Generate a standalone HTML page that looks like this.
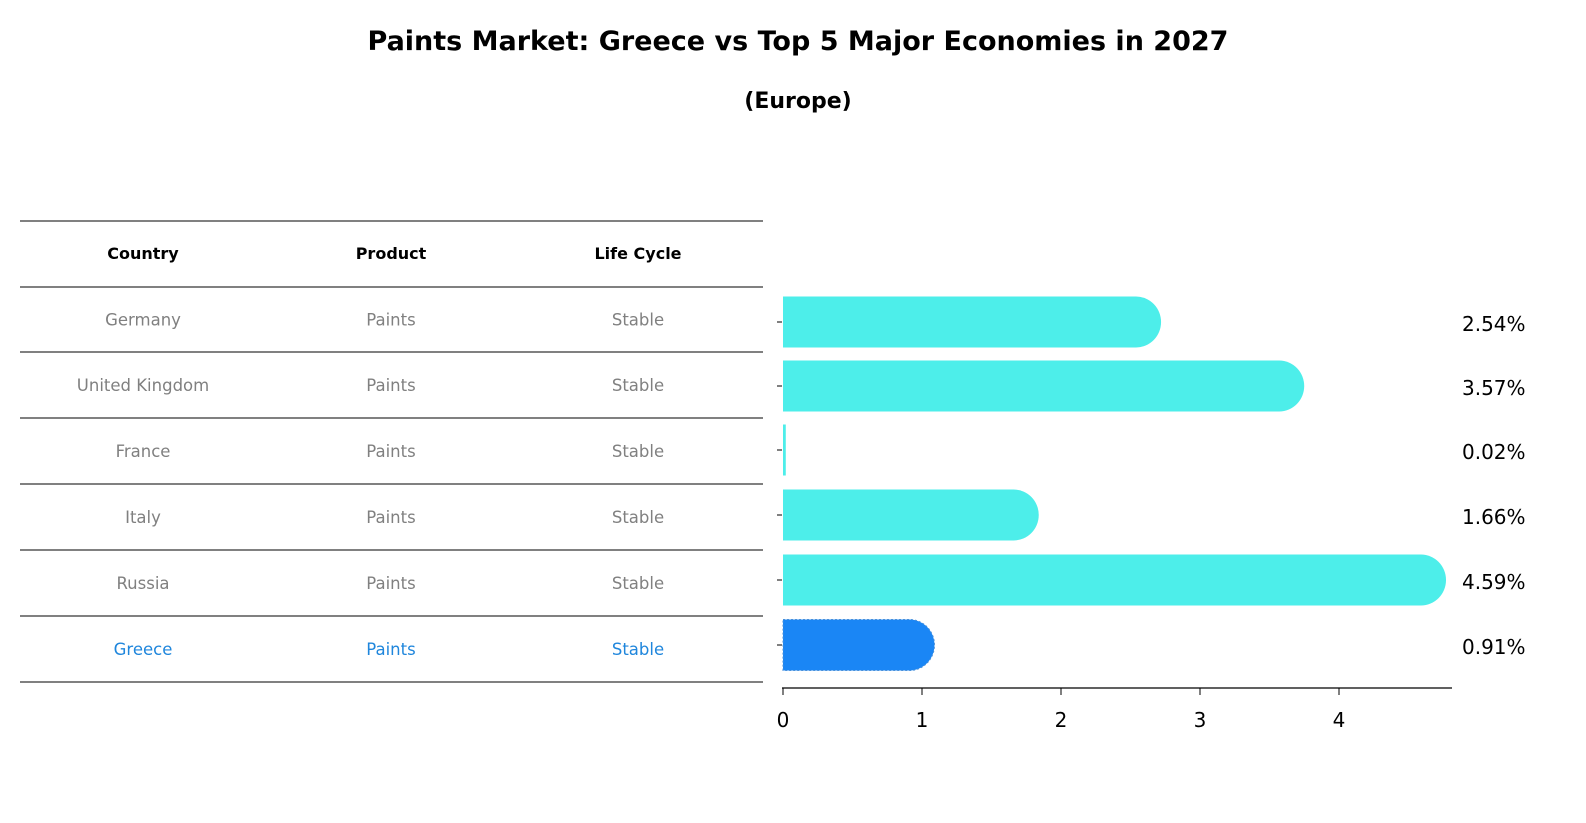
<!DOCTYPE html>
<html><head><meta charset="utf-8"><style>
body{margin:0;background:#fff;font-family:"DejaVu Sans","Liberation Sans",sans-serif;}
svg{display:block}
</style></head><body>
<svg width="1586" height="823">
<text x="798" y="50" text-anchor="middle" font-size="27" font-weight="bold">Paints Market: Greece vs Top 5 Major Economies in 2027</text>
<text x="798" y="108" text-anchor="middle" font-size="22" font-weight="bold">(Europe)</text>
<g id="table"></g>
<g id="bars"></g>
</svg>
<script>
const countries=["Germany","United Kingdom","France","Italy","Russia","Greece"];
const products=["Paints","Paints","Paints","Paints","Paints","Paints"];
const lifecycle=["Stable","Stable","Stable","Stable","Stable","Stable"];
const values=[2.54,3.57,0.02,1.66,4.59,0.91];
const ticks=[0,1,2,3,4];
const NS="http://www.w3.org/2000/svg";
function mk(t,a,p,txt){const e=document.createElementNS(NS,t);for(const k in a)e.setAttribute(k,a[k]);if(txt!==undefined)e.textContent=txt;p.appendChild(e);return e;}
const tb=document.getElementById('table');
const lineYs=[221,287,352,418,484,550,616,682];
lineYs.forEach((y,i)=>{const l=mk('line',{x1:20,x2:763,y1:y,y2:y,stroke:'#000','stroke-width':1},tb);

});
const cx=[143,391,638];
["Country","Product","Life Cycle"].forEach((h,i)=>{const t=mk('text',{x:cx[i],y:259,'text-anchor':'middle','font-size':16,'font-weight':'bold'},tb,h);

});
countries.forEach((c,r)=>{const y=(lineYs[r+1]+lineYs[r+2])/2+6;const col=c==="Greece"?'#1f86dc':'#808080';
[c,products[r],lifecycle[r]].forEach((v,i)=>{const t=mk('text',{x:cx[i],y:y,'text-anchor':'middle','font-size':16.5,fill:col},tb,v);

});});
const bg=document.getElementById('bars');
const x0=783,ppu=139,rowC=[322,386,450,515,580,645],bh=51,rad=25;
const X=v=>x0+v*ppu;
values.forEach((v,i)=>{const g=countries[i]==="Greece";const col=g?'#1a86f5':'#4deeea';const yc=rowC[i];
const w=X(v)-x0;
let d;
if(w<6){d=`M${x0},${yc-bh/2}h${Math.max(w,2)}v${bh}h${-Math.max(w,2)}z`;}
else d=`M${x0},${yc-bh/2}H${X(v)}A${rad},${bh/2} 0 0 1 ${X(v)},${yc+bh/2}H${x0}Z`;
const p=mk('path',{d:d,fill:col},bg);
if(g){p.setAttribute('stroke','#4a90d9');p.setAttribute('stroke-dasharray','2,2');}


const t=mk('text',{x:1462,y:yc+9,'font-size':20},bg,v.toFixed(2)+'%');


const tk=mk('line',{x1:777,x2:782,y1:yc,y2:yc,stroke:'#000'},bg);

});
const ax=mk('line',{x1:782,x2:1452,y1:688,y2:688,stroke:'#000','stroke-width':1.3},bg);


ticks.forEach(v=>{const l=mk('line',{x1:X(v),x2:X(v),y1:688,y2:695,stroke:'#000'},bg);


const t=mk('text',{x:X(v),y:727,'text-anchor':'middle','font-size':20},bg,String(v));

});
</script>
</body></html>
